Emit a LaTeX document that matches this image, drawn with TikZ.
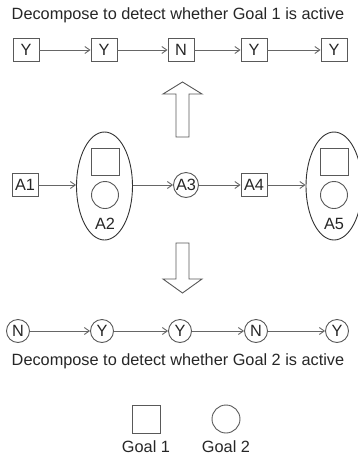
\documentclass[tikz,border=0pt]{standalone}
\usepackage{fontspec}
\setmainfont{Liberation Sans}
\usetikzlibrary{arrows.meta,positioning,shapes.geometric}

\begin{document}
\begin{tikzpicture}[
    x=1pt, y=-1pt,
    font=\fontsize{16.3}{19}\selectfont,
    line width=0.9pt,
    statebox/.style={
        draw=black!65,
        text=black!85,
        minimum width=26pt,
        minimum height=23pt,
        inner sep=0pt
    },
    statecirc/.style={
        draw=black!65,
        text=black!85,
        circle,
        minimum size=23pt,
        inner sep=0pt
    },
    goalset/.style={draw=black!80, ellipse, minimum width=56pt, minimum height=108pt},
    caption/.style={text=black!85},
    flow/.style={-{Straight Barb[length=5pt,width=7pt]}, draw=black!60},
    bigarrow/.style={draw=black!65, fill=white}
]
\useasboundingbox (0,0) rectangle (357,459);

% goal 1 decomposition
\node[caption] (title1) at (178,15) {Decompose to detect whether Goal 1 is active};
\node[statebox] (t1) at (26,50) {Y};
\node[statebox] (t2) at (104,50) {Y};
\node[statebox] (t3) at (181,50) {N};
\node[statebox] (t4) at (254,50) {Y};
\node[statebox] (t5) at (334,50) {Y};

\draw[flow] (t1) -- (t2);
\draw[flow] (t2) -- (t3);
\draw[flow] (t3) -- (t4);
\draw[flow] (t4) -- (t5);

\draw[bigarrow] (176,137) -- (176,94) -- (163,94) -- (182.5,82) -- (202,94) -- (189,94) -- (189,137) -- cycle;

% observed action sequence
\node[statebox] (a1) at (25,185) {A1};
\node[goalset] (a2) at (104.5,186) {};
\node[statebox, minimum width=28pt, minimum height=27pt] (a2g1) at (105,161.5) {};
\node[statecirc, minimum size=27pt] (a2g2) at (105,195) {};
\node[caption] (a2lab) at (105,224) {A2};
\node[statecirc, minimum size=25pt] (a3) at (186,185) {A3};
\node[statebox] (a4) at (254,185) {A4};
\node[goalset] (a5) at (334,186) {};
\node[statebox, minimum width=28pt, minimum height=27pt] (a5g1) at (334,161.5) {};
\node[statecirc, minimum size=27pt] (a5g2) at (334,195) {};
\node[caption] (a5lab) at (334,224) {A5};

\draw[flow] (a1.east) -- (a1.east -| a2.west);
\draw[flow] (a2.east |- a3) -- (a3);
\draw[flow] (a3) -- (a4);
\draw[flow] (a4.east) -- (a4.east -| a5.west);

\draw[bigarrow] (176,243) -- (176,279) -- (163,279) -- (182.5,293) -- (202,279) -- (189,279) -- (189,243) -- cycle;

% goal 2 decomposition
\node[statecirc] (b1) at (18,331) {N};
\node[statecirc] (b2) at (102,331) {Y};
\node[statecirc] (b3) at (180,331) {Y};
\node[statecirc] (b4) at (256,331) {N};
\node[statecirc] (b5) at (337,331) {Y};

\draw[flow] (b1) -- (b2);
\draw[flow] (b2) -- (b3);
\draw[flow] (b3) -- (b4);
\draw[flow] (b4) -- (b5);

\node[caption] (title2) at (178,361) {Decompose to detect whether Goal 2 is active};

% legend
\node[statebox, minimum width=28pt, minimum height=28pt] (leg1) at (146,419) {};
\node[statecirc, minimum size=28pt] (leg2) at (226,419) {};
\node[caption, below=3pt of leg1] (leg1lab) {Goal 1};
\node[caption, below=3pt of leg2] (leg2lab) {Goal 2};

\end{tikzpicture}
\end{document}
